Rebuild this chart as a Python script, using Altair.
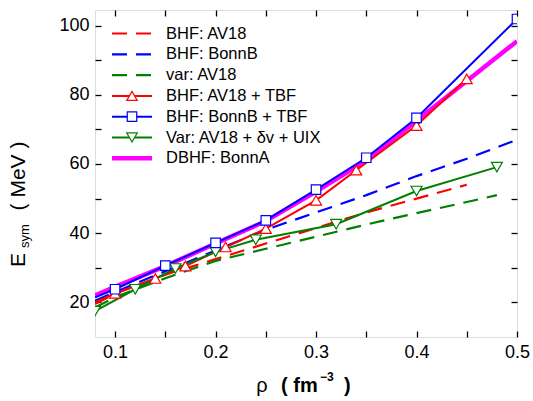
import altair as alt
import pandas as pd

# ---------------- data ----------------
# dashed curves
bhf_av18_x = [0.08, 0.10, 0.15, 0.20, 0.25, 0.30, 0.35, 0.40, 0.45]
bhf_av18_y = [19.5, 22.5, 28.0, 32.5, 37.0, 41.5, 46.0, 50.0, 54.0]
bhf_bonnb_x = [0.08, 0.10, 0.15, 0.20, 0.25, 0.30, 0.35, 0.40, 0.45, 0.50]
bhf_bonnb_y = [20.5, 23.0, 29.0, 35.0, 41.0, 46.0, 51.0, 56.5, 61.5, 67.0]
var_av18_x = [0.08, 0.10, 0.15, 0.20, 0.25, 0.30, 0.35, 0.40, 0.45, 0.48]
var_av18_y = [18.5, 21.5, 27.0, 32.0, 35.5, 39.0, 42.5, 45.8, 49.0, 51.0]

# solid curves with symbols
av18_tbf_x = [0.08, 0.10, 0.14, 0.17, 0.21, 0.25, 0.30, 0.34, 0.40, 0.45]
av18_tbf_y = [20.0, 22.6, 26.9, 30.5, 36.0, 41.3, 49.5, 58.2, 71.1, 84.6]
av18_tbf_mx = [0.10, 0.14, 0.17, 0.21, 0.25, 0.30, 0.34, 0.40, 0.45]
av18_tbf_my = [22.6, 26.9, 30.5, 36.0, 41.3, 49.5, 58.2, 71.1, 84.6]

bonnb_tbf_x = [0.08, 0.10, 0.15, 0.20, 0.25, 0.30, 0.35, 0.40, 0.50]
bonnb_tbf_y = [21.5, 23.8, 30.6, 37.2, 43.7, 52.6, 61.8, 73.3, 101.9]
bonnb_tbf_mx = [0.10, 0.15, 0.20, 0.25, 0.30, 0.35, 0.40, 0.50]
bonnb_tbf_my = [23.8, 30.6, 37.2, 43.7, 52.6, 61.8, 73.3, 101.9]

var_uix_x = [0.08, 0.12, 0.16, 0.20, 0.24, 0.32, 0.40, 0.48]
var_uix_y = [17.5, 23.8, 29.8, 34.6, 38.1, 42.6, 52.2, 59.1]

dbhf_x = [0.08, 0.10, 0.15, 0.20, 0.25, 0.30, 0.35, 0.40, 0.45, 0.50]
dbhf_y = [22.0, 24.5, 30.5, 37.0, 43.5, 52.0, 61.0, 72.5, 84.0, 95.5]

x_ticks = [0.10, 0.15, 0.20, 0.25, 0.30, 0.35, 0.40, 0.45, 0.50]
y_ticks = [20, 30, 40, 50, 60, 70, 80, 90, 100]

legend_names = ["BHF: AV18", "BHF: BonnB", "var: AV18", "BHF: AV18 + TBF",
                "BHF: BonnB + TBF", "Var: AV18 + \u03b4v + UIX", "DBHF: BonnA"]

RED, BLUE, GREEN, MAG = "#FF0000", "#0000FF", "#008000", "#FF00FF"
legend_colors = [RED, BLUE, GREEN, RED, BLUE, GREEN, MAG]
FONT = "Liberation Sans"

W, H = 422, 327
xscale = alt.Scale(domain=[0.08, 0.5], nice=False, zero=False)
yscale = alt.Scale(domain=[10, 104.5], nice=False, zero=False)


def sdf(xs, ys):
    return pd.DataFrame({"rho": xs, "E": ys})


def enc(axx=None, axy=None):
    return dict(
        x=alt.X("rho:Q", scale=xscale, axis=axx),
        y=alt.Y("E:Q", scale=yscale, axis=axy),
    )


def line(xs, ys, color, width, dash=None):
    kw = dict(color=color, strokeWidth=width, clip=True)
    if dash:
        kw["strokeDash"] = dash
    return alt.Chart(sdf(xs, ys)).mark_line(**kw).encode(**enc())


def pts(xs, ys, color, shape, size):
    return alt.Chart(sdf(xs, ys)).mark_point(
        shape=shape, size=size, color=color, fill="white", filled=False,
        fillOpacity=1, strokeWidth=1.2, opacity=1, clip=True
    ).encode(**enc())


DASH = [15, 9]

xlab = "abs(datum.value*10 - round(datum.value*10)) < 0.001 ? format(datum.value, '.1f') : ''"
ylab = "datum.value % 20 == 0 ? format(datum.value, 'd') : ''"

axis_common = dict(domain=False, grid=False, title=None, tickSize=6, offset=-6,
                   tickColor="black", tickWidth=1.3, labelColor="black",
                   labelFont=FONT, labelFontSize=18)

bottom_left = alt.Chart(sdf(dbhf_x, dbhf_y)).mark_point(opacity=0).encode(
    x=alt.X("rho:Q", scale=xscale,
            axis=alt.Axis(orient="bottom", values=x_ticks, labelExpr=xlab,
                          labelPadding=6, labelFlush=False, labelOverlap=False,
                          **axis_common)),
    y=alt.Y("E:Q", scale=yscale,
            axis=alt.Axis(orient="left", values=y_ticks, labelExpr=ylab,
                          labelPadding=6, labelOverlap=False, **axis_common)),
)
mirror_common = dict(axis_common)
mirror_common["labels"] = False
top_right = alt.Chart(sdf(dbhf_x, dbhf_y)).mark_point(opacity=0).encode(
    x=alt.X("rho:Q", scale=xscale,
            axis=alt.Axis(orient="top", values=x_ticks, **mirror_common)),
    y=alt.Y("E:Q", scale=yscale,
            axis=alt.Axis(orient="right", values=y_ticks, **mirror_common)),
)

data_layers = [
    line(bhf_av18_x, bhf_av18_y, RED, 2.2, DASH),
    line(bhf_bonnb_x, bhf_bonnb_y, BLUE, 2.2, DASH),
    line(var_av18_x, var_av18_y, GREEN, 2.2, DASH),
    line(dbhf_x, dbhf_y, MAG, 4.5),
    line(av18_tbf_x, av18_tbf_y, RED, 2),
    line(var_uix_x, var_uix_y, GREEN, 2),
    line(bonnb_tbf_x, bonnb_tbf_y, BLUE, 2),
    pts(av18_tbf_mx, av18_tbf_my, RED, "triangle-up", 120),
    pts(var_uix_x, var_uix_y, GREEN, "triangle-down", 120),
    pts(bonnb_tbf_mx, bonnb_tbf_my, BLUE, "square", 90),
]

# ---------------- legend ----------------
leg = pd.DataFrame({"row": list(range(len(legend_names))),
                    "name": legend_names, "c": legend_colors})
leg_scale = alt.Scale(domain=[0, 6], range=[23.5, 148.3], nice=False, zero=False)
ly = alt.Y("row:Q", scale=leg_scale, axis=None)
lc = alt.Color("c:N", scale=None, legend=None)

leg_dash = alt.Chart(leg[leg.row < 3]).mark_rule(strokeWidth=2.2, strokeDash=DASH).encode(
    x=alt.value(17), x2=alt.value(57), y=ly, color=lc)
leg_solid = alt.Chart(leg[(leg.row >= 3) & (leg.row < 6)]).mark_rule(strokeWidth=2).encode(
    x=alt.value(17), x2=alt.value(57), y=ly, color=lc)
leg_thick = alt.Chart(leg[leg.row == 6]).mark_rule(strokeWidth=4.5).encode(
    x=alt.value(17), x2=alt.value(57), y=ly, color=lc)
leg_shapes = ["triangle-up", "square", "triangle-down"]
leg_marks = []
for i, shp in zip([3, 4, 5], leg_shapes):
    leg_marks.append(
        alt.Chart(leg[leg.row == i]).mark_point(
            shape=shp, size=90 if shp == "square" else 110, fill="white",
            filled=False, fillOpacity=1, strokeWidth=1.2, opacity=1
        ).encode(x=alt.value(37), y=ly, color=lc)
    )
leg_text = alt.Chart(leg).mark_text(
    align="left", baseline="middle", font=FONT, fontSize=16.5, color="black"
).encode(x=alt.value(71), y=ly, text="name:N")

# ---------------- axis titles (rich text pieces) ----------------
one = pd.DataFrame({"k": [0]})


def txt(s, x, y, size, bold=False, angle=None, align="left", baseline="alphabetic"):
    kw = dict(text=s, font=FONT, fontSize=size, color="black", align=align,
              baseline=baseline, fontWeight="bold" if bold else "normal")
    if angle is not None:
        kw["angle"] = angle
    return alt.Chart(one).mark_text(**kw).encode(x=alt.value(x), y=alt.value(y))


titles = [
    txt("\u03c1", 167, 382, 20, align="center"),
    txt("( fm", 186, 382, 20, bold=True),
    txt("\u22123", 225, 371, 12, bold=True),
    txt(")", 249, 382, 20, bold=True),
    txt("E", -70, 250, 21, angle=270, align="center"),
    txt("sym", -66, 226, 13, angle=270, align="center"),
    txt("( MeV )", -70, 166, 21, angle=270, align="center"),
]

chart = alt.layer(
    *data_layers, bottom_left, top_right,
    leg_dash, leg_solid, leg_thick, *leg_marks, leg_text, *titles
).resolve_scale(y="independent").resolve_axis(x="independent").properties(
    width=W, height=H,
    autosize=alt.AutoSizeParams(type="none"),
    padding={"left": 95, "top": 10, "right": 16, "bottom": 64},
).configure_view(stroke="black", strokeWidth=1.5).configure(font=FONT)

chart.save("out.html", embed_options={"renderer": "svg", "actions": False})
